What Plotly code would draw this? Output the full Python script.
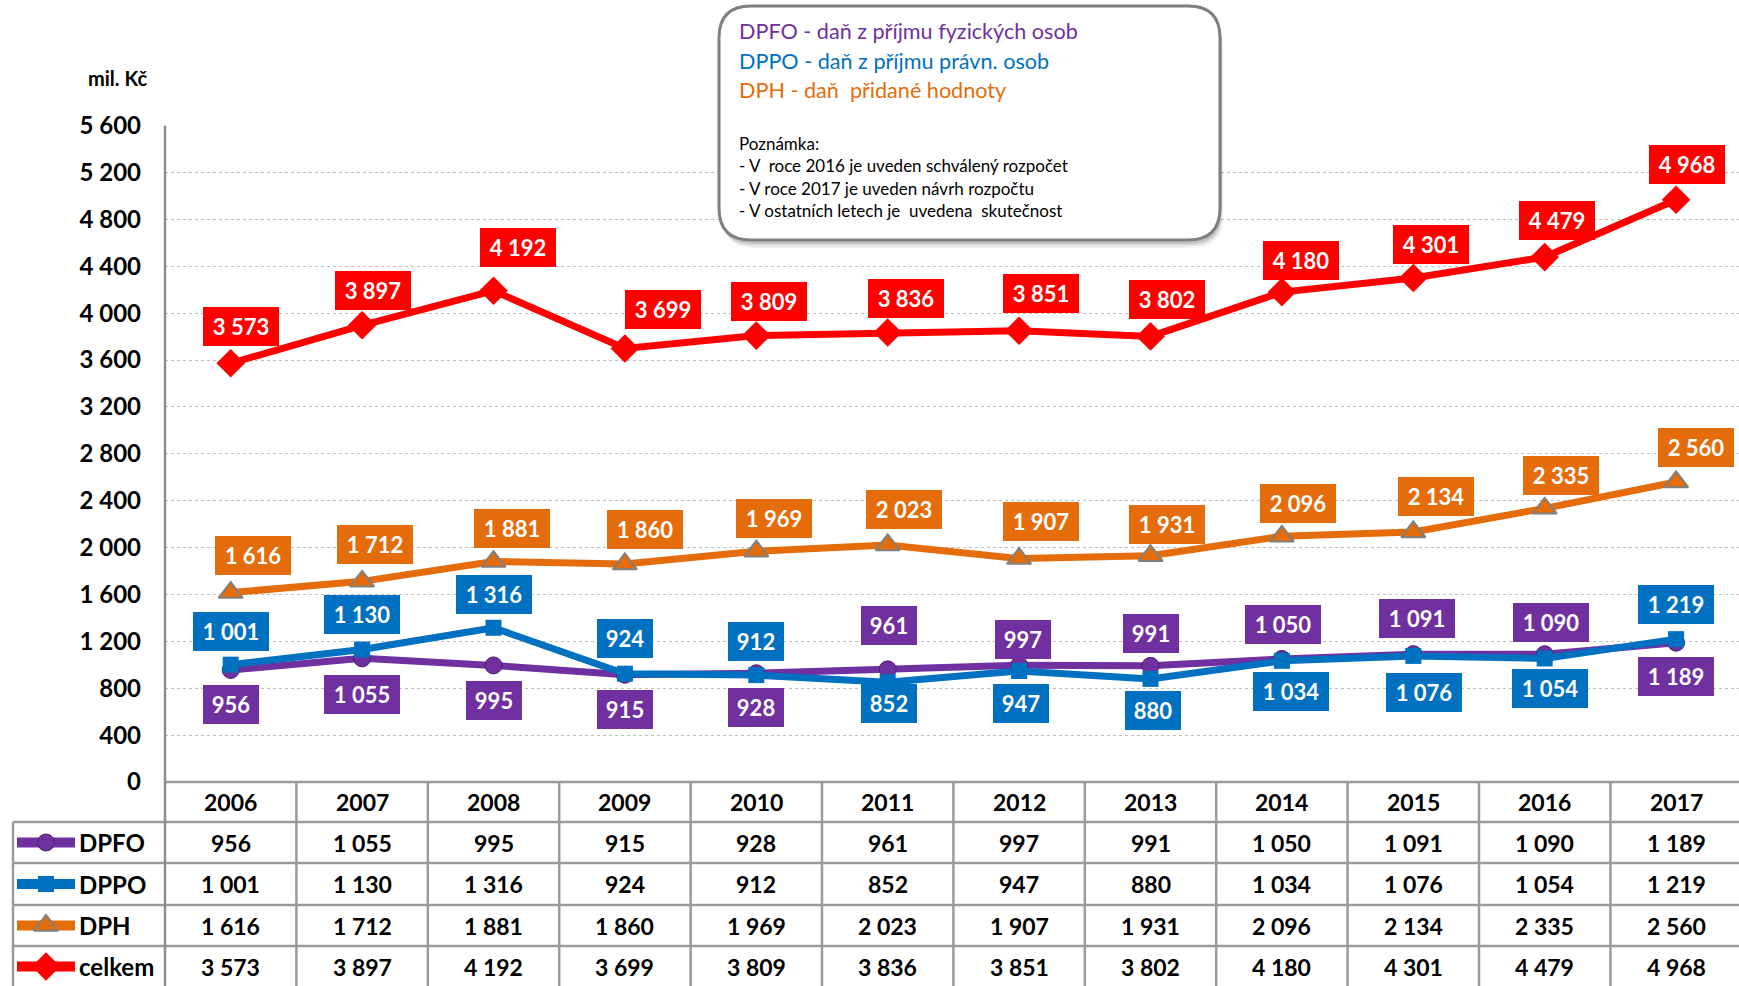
import plotly.graph_objects as go

# ---------------- data ----------------
years = [2006, 2007, 2008, 2009, 2010, 2011, 2012, 2013, 2014, 2015, 2016, 2017]
dpfo = [956, 1055, 995, 915, 928, 961, 997, 991, 1050, 1091, 1090, 1189]
dppo = [1001, 1130, 1316, 924, 912, 852, 947, 880, 1034, 1076, 1054, 1219]
dph = [1616, 1712, 1881, 1860, 1969, 2023, 1907, 1931, 2096, 2134, 2335, 2560]
celkem = [3573, 3897, 4192, 3699, 3809, 3836, 3851, 3802, 4180, 4301, 4479, 4968]
series_names = ["DPFO", "DPPO", "DPH", "celkem"]
y_ticks = [0, 400, 800, 1200, 1600, 2000, 2400, 2800, 3200, 3600, 4000, 4400, 4800, 5200, 5600]

# ---------------- label placement (pixel offsets: dx right, dy down) ----------------
off_celkem = [(10, -37), (11, -35), (24, -43), (38, -39), (13, -34), (18, -34),
              (22, -37), (16, -37), (19, -32), (18, -33), (12, -37), (11, -35)]
off_dph = [(22, -37), (13, -37), (18, -33), (20, -35), (18, -33), (16, -35),
           (22, -37), (16, -31), (16, -33), (23, -35), (16, -33), (20, -34)]
off_dppo = [(0, -33), (0, -35), (0, -33), (0, -35), (0, -34), (1, 21),
            (2, 32), (2, 32), (9, 31), (11, 37), (5, 30), (0, -35)]
off_dpfo = [(0, 35), (0, 36), (0, 35), (0, 35), (0, 34), (1, -44),
            (4, -26), (0, -32), (1, -34), (4, -36), (6, -32), (0, 34)]

W, H = 1739, 986
FONT = "Lato"
PURPLE, BLUE, ORANGE, RED = "#7030A0", "#0070C0", "#E46C0A", "#FF0000"
GRID = "#BFBFBF"
TABLE_LINE = "#9A9A9A"

# layout geometry (pixels)
AX_LEFT = 165
PLOT_TOP = 125.7
PLOT_BOTTOM = 782
COL_W = 131.4
ROW_LINES = [782, 822, 863, 905, 946, 987]


def fmt(v):
    return f"{v:,}".replace(",", " ")


styles = {
    "DPFO": dict(vals=dpfo, color=PURPLE, symbol="circle", size=17,
                 mline=dict(color="#4A1F6B", width=1), off=off_dpfo),
    "DPPO": dict(vals=dppo, color=BLUE, symbol="square", size=16,
                 mline=dict(color=BLUE, width=0), off=off_dppo),
    "DPH": dict(vals=dph, color=ORANGE, symbol="triangle-up", size=21,
                mline=dict(color="#7F7F7F", width=2), off=off_dph),
    "celkem": dict(vals=celkem, color=RED, symbol="diamond", size=22,
                   mline=dict(color=RED, width=0), off=off_celkem),
}

fig = go.Figure()

# main series
for name in series_names:
    s = styles[name]
    fig.add_trace(go.Scatter(
        x=years, y=s["vals"], mode="lines+markers", name=name,
        line=dict(color=s["color"], width=7),
        marker=dict(symbol=s["symbol"], size=s["size"], color=s["color"], line=s["mline"]),
        cliponaxis=False, hoverinfo="skip", showlegend=False,
        xaxis="x", yaxis="y",
    ))

annotations = []
shapes = []

# data labels
for name in series_names:
    s = styles[name]
    for yr, v, (dx, dy) in zip(years, s["vals"], s["off"]):
        txt = fmt(v)
        annotations.append(dict(
            x=yr, y=v, xref="x", yref="y", text=txt, showarrow=False,
            xshift=dx, yshift=-dy, xanchor="center", yanchor="middle",
            font=dict(family=FONT, size=22, color="white", weight=700),
            bgcolor=s["color"], borderpad=6, borderwidth=0,
            width=44 if len(txt) <= 3 else 64, align="center",
        ))

# ---------------- table ----------------
row_centers = [(ROW_LINES[i] + ROW_LINES[i + 1]) / 2 for i in range(len(ROW_LINES) - 1)]

# header years
for yr in years:
    annotations.append(dict(
        x=yr, y=row_centers[0], xref="x", yref="y2", text=str(yr), showarrow=False,
        font=dict(family=FONT, size=23, color="black", weight=700),
        xanchor="center", yanchor="middle",
    ))

# value rows
for ri, name in enumerate(series_names):
    yc = row_centers[ri + 1]
    for yr, v in zip(years, styles[name]["vals"]):
        annotations.append(dict(
            x=yr, y=yc, xref="x", yref="y2", text=fmt(v), showarrow=False,
            font=dict(family=FONT, size=23, color="black", weight=700),
            xanchor="center", yanchor="middle",
        ))
    annotations.append(dict(
        x=77, y=yc, xref="x2", yref="y2", text=name, showarrow=False,
        font=dict(family=FONT, size=24, color="black", weight=700),
        xanchor="left", yanchor="middle",
    ))
    s = styles[name]
    fig.add_trace(go.Scatter(
        x=[17, 75], y=[yc, yc], mode="lines", line=dict(color=s["color"], width=10),
        hoverinfo="skip", showlegend=False, xaxis="x2", yaxis="y2", cliponaxis=False,
    ))
    fig.add_trace(go.Scatter(
        x=[46], y=[yc], mode="markers",
        marker=dict(symbol=s["symbol"], size=s["size"], color=s["color"], line=s["mline"]),
        hoverinfo="skip", showlegend=False, xaxis="x2", yaxis="y2", cliponaxis=False,
    ))

# table lines
line_style = dict(color=TABLE_LINE, width=2.5)
shapes.append(dict(type="line", xref="x2", yref="y2", x0=AX_LEFT, x1=W, y0=ROW_LINES[0], y1=ROW_LINES[0], line=line_style))
for yl in ROW_LINES[1:5]:
    shapes.append(dict(type="line", xref="x2", yref="y2", x0=13, x1=W, y0=yl, y1=yl, line=line_style))
shapes.append(dict(type="line", xref="x2", yref="y2", x0=13, x1=13, y0=ROW_LINES[1], y1=H, line=line_style))
for yr in years[:-1]:
    shapes.append(dict(type="line", xref="x", yref="y2", x0=yr + 0.5, x1=yr + 0.5,
                       y0=ROW_LINES[0], y1=H, line=line_style))
# y axis line (continues into table)
shapes.append(dict(type="line", xref="x2", yref="y2", x0=AX_LEFT, x1=AX_LEFT,
                   y0=PLOT_TOP, y1=H, line=dict(color="#8C8C8C", width=2.5)))

# unit label
annotations.append(dict(
    x=117, y=78, xref="x2", yref="y2", text="mil. Kč", showarrow=False,
    font=dict(family=FONT, size=20, color="black", weight=700),
    xanchor="center", yanchor="middle",
))

# ---------------- note box ----------------
def rrect(x0, y0, x1, y1, r):
    return (f"M {x0 + r},{y0} L {x1 - r},{y0} Q {x1},{y0} {x1},{y0 + r} "
            f"L {x1},{y1 - r} Q {x1},{y1} {x1 - r},{y1} L {x0 + r},{y1} "
            f"Q {x0},{y1} {x0},{y1 - r} L {x0},{y0 + r} Q {x0},{y0} {x0 + r},{y0} Z")

bx0, by0, bx1, by1 = 719, 6, 1220, 240
for k, a in [(8, 0.05), (6, 0.08), (4, 0.12)]:
    shapes.append(dict(type="path", xref="x2", yref="y2",
                       path=rrect(bx0 + k * 0.4, by0 + k, bx1 + k * 0.4, by1 + k, 32),
                       fillcolor=f"rgba(0,0,0,{a})", line=dict(width=0)))
shapes.append(dict(type="path", xref="x2", yref="y2", path=rrect(bx0, by0, bx1, by1, 32),
                   fillcolor="white", line=dict(color="#7F7F7F", width=3)))

box_lines = [
    ("DPFO - daň z příjmu fyzických osob", PURPLE, 21.6, 31),
    ("DPPO - daň z příjmu právn. osob", BLUE, 21.6, 61),
    ("DPH - daň  přidané hodnoty", ORANGE, 21.6, 90),
    ("Poznámka:", "black", 17, 143),
    ("- V  roce 2016 je uveden schválený rozpočet", "black", 17, 165),
    ("- V roce 2017 je uveden návrh rozpočtu", "black", 17, 188),
    ("- V ostatních letech je  uvedena  skutečnost", "black", 17, 210),
]
for txt, col, sz, yc in box_lines:
    annotations.append(dict(
        x=737, y=yc, xref="x2", yref="y2", text=txt.replace("  ", "&nbsp; "), showarrow=False,
        font=dict(family=FONT, size=sz, color=col),
        xanchor="left", yanchor="middle",
    ))

x_end = 2005.5 + (W - AX_LEFT) / COL_W
fig.update_layout(
    width=W, height=H,
    margin=dict(l=0, r=0, t=0, b=0, pad=0, autoexpand=False),
    paper_bgcolor="white", plot_bgcolor="rgba(0,0,0,0)",
    showlegend=False,
    xaxis=dict(domain=[AX_LEFT / W, 1], range=[2005.5, x_end], visible=False,
               fixedrange=True, anchor="y", automargin=False),
    yaxis=dict(domain=[(H - PLOT_BOTTOM) / H, (H - PLOT_TOP) / H], range=[0, 5600],
               tickvals=y_ticks, ticktext=[fmt(v) for v in y_ticks],
               tickfont=dict(family=FONT, size=24, color="black", weight=700),
               showgrid=True, gridcolor=GRID, griddash="dot", gridwidth=1,
               zeroline=False, showline=False, ticks="", ticklabelstandoff=23,
               anchor="x", fixedrange=True, automargin=False),
    xaxis2=dict(domain=[0, 1], range=[0, W], visible=False, anchor="y2",
                fixedrange=True, automargin=False),
    yaxis2=dict(domain=[0, 1], range=[H, 0], visible=False, anchor="x2",
                fixedrange=True, automargin=False),
    annotations=annotations,
    shapes=shapes,
    font=dict(family=FONT),
)

fig.write_html(
    "out.html",
    config={"displayModeBar": False, "staticPlot": True},
    post_script="document.body.style.margin='0px';document.body.style.overflow='hidden';",
)
